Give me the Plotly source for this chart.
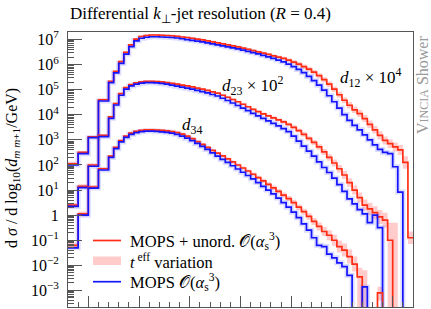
import plotly.graph_objects as go

# ---------------- data ----------------
# x: log10(d_{m m+1}/GeV) bin edges
bin_edges = [-0.2, -0.1, 0.0, 0.1, 0.2, 0.25, 0.3, 0.35, 0.4, 0.45, 0.5, 0.55, 0.6, 0.65,
             0.7, 0.75, 0.8, 0.85, 0.9, 0.95, 1.0, 1.05, 1.1, 1.15, 1.2, 1.25, 1.3, 1.35,
             1.4, 1.45, 1.5, 1.55, 1.6, 1.65, 1.7, 1.75, 1.8, 1.85, 1.9, 1.95, 2.0, 2.05,
             2.1, 2.15, 2.2, 2.25, 2.3, 2.35, 2.4, 2.45, 2.5, 2.55, 2.6, 2.65, 2.7, 2.75,
             2.8, 2.85, 2.9, 2.95, 3.0, 3.05, 3.1, 3.15, 3.2]

# series values given as log10(dsigma/dlog10(d)); None = empty bin
d12_mops_log10 = [2.0, 2.45, 3.09, 4.55,
    5.28, 5.67, 6.05, 6.42, 6.72, 6.95, 7.05, 7.09, 7.11, 7.11,
    7.10, 7.09, 7.08, 7.06, 7.03, 7.00, 6.97, 6.94, 6.91, 6.87,
    6.83, 6.79, 6.75, 6.71, 6.67, 6.63, 6.58, 6.53, 6.48, 6.43,
    6.37, 6.31, 6.25, 6.18, 6.11, 6.02, 5.92, 5.81, 5.68, 5.53,
    5.36, 5.18, 4.98, 4.76, 4.52, 4.27, 4.01, 3.78, 3.58, 3.40,
    3.20, 3.00, 2.80, 2.62, 2.50, 2.45, 1.93, 0.92, None, None]
d12_unord_log10 = [2.05, 2.50, 3.12, 4.60,
    5.33, 5.73, 6.12, 6.49, 6.79, 7.02, 7.12, 7.16, 7.18, 7.18,
    7.17, 7.16, 7.15, 7.13, 7.10, 7.08, 7.05, 7.02, 6.99, 6.95,
    6.91, 6.87, 6.83, 6.79, 6.75, 6.71, 6.66, 6.61, 6.56, 6.51,
    6.46, 6.41, 6.35, 6.30, 6.25, 6.18, 6.10, 6.02, 5.92, 5.82,
    5.70, 5.56, 5.40, 5.22, 5.02, 4.80, 4.58, 4.38, 4.20, 4.05,
    3.85, 3.62, 3.40, 3.18, 2.98, 2.85, 2.72, 2.60, 2.10, -0.90]
d12_teff_lo_log10 = [1.97, 2.44, 3.07, 4.55,
    5.29, 5.69, 6.08, 6.45, 6.75, 6.98, 7.08, 7.12, 7.14, 7.14,
    7.13, 7.12, 7.11, 7.09, 7.06, 7.04, 7.01, 6.98, 6.95, 6.91,
    6.87, 6.83, 6.79, 6.75, 6.71, 6.67, 6.62, 6.57, 6.52, 6.47,
    6.41, 6.36, 6.30, 6.24, 6.19, 6.11, 6.03, 5.94, 5.84, 5.73,
    5.61, 5.46, 5.30, 5.11, 4.91, 4.68, 4.46, 4.25, 4.07, 3.91,
    3.71, 3.47, 3.25, 3.02, 2.82, 2.68, 2.54, 2.40, 1.85, -1.15]
d12_teff_hi_log10 = [2.13, 2.56, 3.17, 4.65,
    5.37, 5.77, 6.16, 6.53, 6.83, 7.06, 7.16, 7.20, 7.22, 7.22,
    7.21, 7.20, 7.19, 7.17, 7.14, 7.12, 7.09, 7.06, 7.03, 6.99,
    6.95, 6.91, 6.87, 6.83, 6.79, 6.75, 6.70, 6.65, 6.60, 6.55,
    6.51, 6.46, 6.40, 6.36, 6.31, 6.25, 6.17, 6.10, 6.00, 5.91,
    5.79, 5.66, 5.50, 5.33, 5.13, 4.92, 4.70, 4.51, 4.33, 4.19,
    3.99, 3.77, 3.55, 3.34, 3.14, 3.02, 2.90, 2.80, 2.35, -0.65]

d23_mops_log10 = [0.35, 1.10, 1.95, 3.13,
    3.86, 4.39, 4.78, 5.02, 5.15, 5.22, 5.26, 5.28, 5.28, 5.27,
    5.25, 5.22, 5.18, 5.14, 5.10, 5.06, 5.02, 4.97, 4.92, 4.87,
    4.81, 4.75, 4.66, 4.57, 4.47, 4.37, 4.27, 4.17, 4.06, 3.96,
    3.86, 3.76, 3.66, 3.56, 3.45, 3.33, 3.15, 2.95, 2.75, 2.55,
    2.35, 2.12, 1.90, 1.70, 1.48, 1.22, 0.95, 0.65, 0.45, 0.22,
    0.05, -0.30, 0.00, -0.50, None, None, None, None, None, None]
d23_unord_log10 = [0.40, 1.15, 2.00, 3.18,
    3.92, 4.45, 4.84, 5.08, 5.20, 5.27, 5.31, 5.33, 5.33, 5.32,
    5.31, 5.28, 5.25, 5.22, 5.18, 5.15, 5.11, 5.06, 5.02, 4.97,
    4.91, 4.86, 4.78, 4.70, 4.61, 4.52, 4.42, 4.32, 4.22, 4.13,
    4.04, 3.96, 3.88, 3.80, 3.72, 3.62, 3.50, 3.37, 3.22, 3.06,
    2.90, 2.72, 2.52, 2.30, 2.08, 1.85, 1.60, 1.30, 1.00, 0.70,
    0.40, 0.25, 0.10, -0.07, -0.20, -1.00, None, None, None, None]
d23_teff_lo_log10 = [0.32, 1.07, 1.94, 3.13,
    3.88, 4.41, 4.80, 5.04, 5.16, 5.23, 5.27, 5.29, 5.29, 5.28,
    5.27, 5.24, 5.21, 5.18, 5.14, 5.11, 5.07, 5.02, 4.98, 4.93,
    4.87, 4.82, 4.74, 4.66, 4.57, 4.48, 4.38, 4.28, 4.18, 4.09,
    3.99, 3.91, 3.82, 3.74, 3.65, 3.55, 3.42, 3.29, 3.13, 2.97,
    2.80, 2.61, 2.40, 2.17, 1.94, 1.70, 1.44, 1.13, 0.82, 0.50,
    0.18, 0.01, -0.16, -0.35, -0.50, None, None, None, None, None]
d23_teff_hi_log10 = [0.48, 1.23, 2.06, 3.23,
    3.96, 4.49, 4.88, 5.12, 5.24, 5.31, 5.35, 5.37, 5.37, 5.36,
    5.35, 5.32, 5.29, 5.26, 5.22, 5.19, 5.15, 5.10, 5.06, 5.01,
    4.95, 4.90, 4.82, 4.74, 4.65, 4.56, 4.46, 4.36, 4.26, 4.17,
    4.09, 4.01, 3.94, 3.86, 3.79, 3.69, 3.58, 3.45, 3.31, 3.15,
    3.00, 2.83, 2.64, 2.43, 2.22, 2.00, 1.76, 1.47, 1.18, 0.90,
    0.62, 0.49, 0.36, 0.21, 0.10, -0.30, -0.30, None, None, None]

d34_mops_log10 = [-1.30, 0.00, 1.08, 1.80,
    2.30, 2.65, 2.92, 3.10, 3.22, 3.29, 3.33, 3.35, 3.35, 3.34,
    3.32, 3.30, 3.27, 3.22, 3.15, 3.07, 2.97, 2.86, 2.74, 2.62,
    2.48, 2.35, 2.22, 2.10, 1.97, 1.84, 1.71, 1.58, 1.45, 1.30,
    1.15, 1.00, 0.85, 0.68, 0.50, 0.32, 0.12, -0.10, -0.35, -0.60,
    -0.90, -1.20, -1.25, -1.55, -1.70, -1.90, -2.05, -2.40, None, None,
    -2.86, None, None, None, None, None, None, None, None, None]
d34_unord_log10 = [-1.20, 0.05, 1.12, 1.85,
    2.35, 2.70, 2.97, 3.15, 3.27, 3.34, 3.38, 3.40, 3.40, 3.39,
    3.38, 3.36, 3.33, 3.29, 3.23, 3.15, 3.05, 2.93, 2.82, 2.70,
    2.58, 2.47, 2.36, 2.24, 2.12, 2.00, 1.88, 1.76, 1.63, 1.50,
    1.37, 1.23, 1.09, 0.95, 0.80, 0.66, 0.50, 0.32, 0.14, -0.05,
    -0.25, -0.45, -0.65, -0.80, -1.00, -1.25, -1.39, -1.65, -1.95, -2.46,
    None, None, None, -3.10, None, None, None, None, None, None]
d34_teff_lo_log10 = [-1.30, -0.05, 1.04, 1.79,
    2.30, 2.65, 2.92, 3.10, 3.22, 3.29, 3.33, 3.35, 3.35, 3.34,
    3.33, 3.31, 3.28, 3.24, 3.18, 3.10, 3.00, 2.88, 2.77, 2.65,
    2.53, 2.42, 2.31, 2.19, 2.07, 1.95, 1.82, 1.70, 1.56, 1.43,
    1.29, 1.15, 1.00, 0.86, 0.70, 0.56, 0.39, 0.21, 0.02, -0.18,
    -0.39, -0.61, -0.83, -1.00, -1.22, -1.49, -1.65, -1.93, -2.25, None,
    None, None, None, -3.40, None, None, None, None, None, None]
d34_teff_hi_log10 = [-1.10, 0.15, 1.20, 1.91,
    2.40, 2.75, 3.02, 3.20, 3.32, 3.39, 3.43, 3.45, 3.45, 3.44,
    3.43, 3.41, 3.38, 3.34, 3.28, 3.20, 3.10, 2.98, 2.87, 2.75,
    2.63, 2.52, 2.41, 2.29, 2.17, 2.05, 1.94, 1.82, 1.70, 1.57,
    1.45, 1.31, 1.18, 1.04, 0.90, 0.76, 0.61, 0.43, 0.26, 0.08,
    -0.11, -0.29, -0.47, -0.60, -0.78, -1.01, -1.13, -1.37, -1.65, -2.10,
    -2.20, None, None, -2.85, None, None, None, None, None, None]

y_tick_exponents = [-3, -2, -1, 0, 1, 2, 3, 4, 5, 6, 7]
x_major_ticks = [0.0, 0.5, 1.0, 1.5, 2.0, 2.5, 3.0]

# ---------------- styling ----------------
RED = "#ff2d14"
BLUE = "#1414ff"
PINK = "rgba(255,160,160,0.55)"
HALO = "rgba(140,140,255,0.30)"
FRAME = "#555555"
SERIF = "Liberation Serif"
FLOOR = 1e-12  # empty bins drop below the frame

W, H = 431, 309
ML, MR, MT, MB = 68, 18, 32, 2
PW, PH = W - ML - MR, H - MT - MB


def px(x):
    return (x - ML) / PW


def py(y):
    return (H - MB - y) / PH


def vals(logs):
    v = [10 ** l if l is not None else FLOOR for l in logs]
    return v + [v[-1]]


fig = go.Figure()

groups = [
    (d12_mops_log10, d12_unord_log10, d12_teff_lo_log10, d12_teff_hi_log10),
    (d23_mops_log10, d23_unord_log10, d23_teff_lo_log10, d23_teff_hi_log10),
    (d34_mops_log10, d34_unord_log10, d34_teff_lo_log10, d34_teff_hi_log10),
]

# bands first
for mops, unord, lo, hi in groups:
    lo_v = vals([l if (l is not None and h is not None) else None for l, h in zip(lo, hi)])
    hi_v = vals(hi)
    fig.add_trace(go.Scatter(x=bin_edges, y=lo_v, mode="lines", line=dict(width=0, shape="hv"),
                             hoverinfo="skip", showlegend=False))
    fig.add_trace(go.Scatter(x=bin_edges, y=hi_v, mode="lines", line=dict(width=0, shape="hv"),
                             fill="tonexty", fillcolor=PINK, hoverinfo="skip", showlegend=False))

for mops, unord, lo, hi in groups:
    fig.add_trace(go.Scatter(x=bin_edges, y=vals(mops), mode="lines",
                             line=dict(color=HALO, width=5, shape="hv"), hoverinfo="skip", showlegend=False))

for mops, unord, lo, hi in groups:
    fig.add_trace(go.Scatter(x=bin_edges, y=vals(unord), mode="lines",
                             line=dict(color=RED, width=1.7, shape="hv"), showlegend=False))
    fig.add_trace(go.Scatter(x=bin_edges, y=vals(mops), mode="lines",
                             line=dict(color=BLUE, width=1.7, shape="hv"), showlegend=False))

ticktext = []
for e in y_tick_exponents:
    if e == 0:
        ticktext.append("1")
    elif e < 0:
        ticktext.append("10<sup>\u2212%d</sup>" % (-e))
    else:
        ticktext.append("10<sup>%d</sup>" % e)

minor_y = [m * 10.0 ** e for e in range(-4, 8) for m in range(2, 10)]

fig.update_layout(
    width=W, height=H,
    margin=dict(l=ML, r=MR, t=MT, b=MB),
    paper_bgcolor="white", plot_bgcolor="white",
    showlegend=False,
    font=dict(family=SERIF, size=14, color="black"),
)
fig.update_xaxes(range=[-0.2, 3.2], showgrid=False, zeroline=False,
                 showline=True, mirror=True, linecolor=FRAME, linewidth=1,
                 ticks="inside", ticklen=11, tickcolor=FRAME, tickwidth=1,
                 tickmode="array", tickvals=x_major_ticks, showticklabels=False,
                 minor=dict(ticks="inside", ticklen=5, tickcolor=FRAME, dtick=0.1, tick0=0.0,
                            showgrid=False))
fig.update_yaxes(type="log", range=[-3.66, 7.3], showgrid=False, zeroline=False,
                 showline=True, mirror=True, linecolor=FRAME, linewidth=1,
                 ticks="inside", ticklen=14, tickcolor=FRAME, tickwidth=1,
                 tickmode="array", tickvals=[10.0 ** e for e in y_tick_exponents],
                 ticktext=ticktext, tickfont=dict(family=SERIF, size=16),
                 ticklabelstandoff=5,
                 minor=dict(ticks="inside", ticklen=6, tickcolor=FRAME, tickvals=minor_y,
                            showgrid=False))


def note(x, y, text, size=17, color="black", xanchor="center", angle=0):
    return dict(x=px(x), y=py(y), xref="paper", yref="paper", xanchor=xanchor, yanchor="middle",
                showarrow=False, textangle=angle, text=text,
                font=dict(family=SERIF, size=size, color=color))


ann = [
    note(68, 15, "Differential <i>k</i><sub>\u22a5</sub>-jet resolution (<i>R</i> = 0.4)", xanchor="left"),
    note(12, 168, "d <i>\u03c3</i> / d log<sub>10</sub>(<i>d</i><sub><i>m m</i>+1</sub>/GeV)", size=16, angle=-90),
    note(422, 85, "V<span style='font-size:12px'>INCIA</span> Shower", size=16, color="#9a9a9a", angle=-90),
    note(370, 77, "<i>d</i><sub>12</sub> \u00d7 10<sup>4</sup>"),
    note(252, 85, "<i>d</i><sub>23</sub> \u00d7 10<sup>2</sup>"),
    note(192, 126, "<i>d</i><sub>34</sub>"),
]

legend_items = [
    ("MOPS + unord. \U0001D4AA(<i>\u03b1</i><sub>s</sub><sup>3</sup>)", 240.5),
    ("<i>t</i><sup> eff</sup> variation", 261),
    ("MOPS \U0001D4AA(<i>\u03b1</i><sub>s</sub><sup>3</sup>)", 281.7),
]
for txt, yy in legend_items:
    ann.append(note(128, yy, txt, size=16.5, xanchor="left"))
fig.update_layout(annotations=ann)

shapes = [
    dict(type="line", xref="paper", yref="paper", x0=px(93), x1=px(121), y0=py(240.5), y1=py(240.5),
         line=dict(color=RED, width=1.7)),
    dict(type="rect", xref="paper", yref="paper", x0=px(93), x1=px(121), y0=py(265), y1=py(256.5),
         fillcolor=PINK, line=dict(width=0)),
    dict(type="line", xref="paper", yref="paper", x0=px(93), x1=px(121), y0=py(281.7), y1=py(281.7),
         line=dict(color=BLUE, width=1.7)),
]
fig.update_layout(shapes=shapes)

fig.write_html("out.html", config={"displayModeBar": False},
               post_script="document.body.style.margin='0px';document.body.style.padding='0px';")
